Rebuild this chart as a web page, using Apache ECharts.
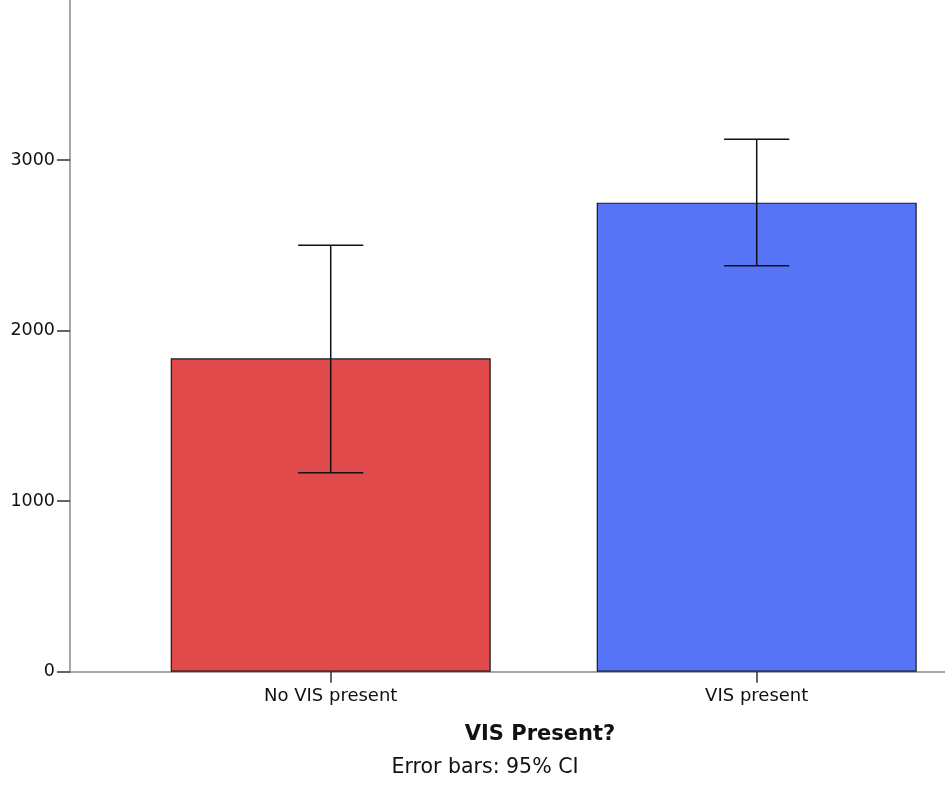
<!DOCTYPE html>
<html>
<head>
<meta charset="utf-8">
<script src="https://cdn.jsdelivr.net/npm/echarts@6/dist/echarts.min.js"></script>
<style>html,body{margin:0;padding:0;background:#fff}#c{width:945px;height:798px}</style>
</head>
<body>
<div id="c"></div>
<script>
const categories = ['No VIS present', 'VIS present'];
const means = [1837, 2750];
const ciLow = [1167, 2380];
const ciHigh = [2500, 3121];
const barColors = ['#E04A4B', '#5574F6'];
const yTicks = [0, 1000, 2000, 3000];

const chart = echarts.init(document.getElementById('c'));
const FONT = 'DejaVu Sans';
chart.setOption({
  animation: false,
  grid: { left: 70, right: 0, top: 0, bottom: 126.3, containLabel: false },
  xAxis: {
    type: 'value', min: -0.612, max: 1.442,
    splitLine: { show: false },
    axisLine: { show: true, onZero: false, lineStyle: { color: '#888', width: 1.5 } },
    axisTick: { show: true, customValues: [0, 1], length: 11, lineStyle: { color: '#333', width: 1.5 } },
    axisLabel: { customValues: [0, 1], formatter: v => categories[Math.round(v)], color: '#111', fontFamily: FONT, fontSize: 18, margin: 16 }
  },
  yAxis: {
    type: 'value', min: 0, max: 3938,
    splitLine: { show: false },
    axisLine: { show: true, onZero: false, lineStyle: { color: '#888', width: 1.5 } },
    axisTick: { show: true, customValues: yTicks, length: 13, lineStyle: { color: '#333', width: 1.5 } },
    axisLabel: { customValues: yTicks, formatter: v => String(v), color: '#111', fontFamily: FONT, fontSize: 17.5, margin: 15 }
  },
  series: [
    {
      type: 'bar', barWidth: 320,
      data: means.map((m, i) => ({ value: [i, m], itemStyle: { color: barColors[i] } })),
      itemStyle: { borderColor: '#1a1a1a', borderWidth: 1.2 }
    },
    {
      type: 'custom', z: 5,
      data: categories.map((c, i) => [i, ciLow[i], ciHigh[i]]),
      renderItem: function (params, api) {
        const x = api.value(0);
        const lo = api.coord([x, api.value(1)]);
        const hi = api.coord([x, api.value(2)]);
        const half = api.size([0.153, 0])[0] / 2;
        const st = { stroke: '#111', lineWidth: 1.5 };
        return { type: 'group', children: [
          { type: 'line', shape: { x1: lo[0], y1: lo[1], x2: hi[0], y2: hi[1] }, style: st },
          { type: 'line', shape: { x1: lo[0] - half, y1: lo[1], x2: lo[0] + half, y2: lo[1] }, style: st },
          { type: 'line', shape: { x1: hi[0] - half, y1: hi[1], x2: hi[0] + half, y2: hi[1] }, style: st }
        ]};
      }
    }
  ],
  graphic: [
    { type: 'text', x: 540, y: 735, style: { text: 'VIS Present?', font: 'bold 21px "DejaVu Sans"', fill: '#111', textAlign: 'center', textVerticalAlign: 'middle' } },
    { type: 'text', x: 485, y: 768, style: { text: 'Error bars: 95% CI', font: '20.5px "DejaVu Sans"', fill: '#111', textAlign: 'center', textVerticalAlign: 'middle' } }
  ]
});
</script>
</body>
</html>
